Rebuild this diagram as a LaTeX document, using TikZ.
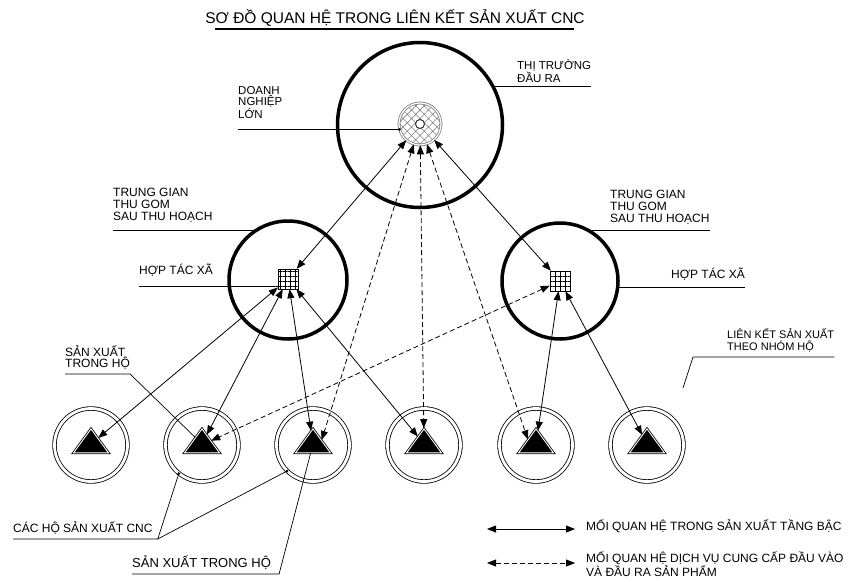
\documentclass[tikz,border=0pt]{standalone}
\usepackage{fontspec}
\setmainfont{Liberation Sans}
\usepackage{tikz}
\usetikzlibrary{arrows.meta}
\usetikzlibrary{patterns.meta}
\usetikzlibrary{shapes.geometric}
\tikzset{
  lbl/.style={inner sep=0pt, anchor=south west, align=left, font=\fontsize{12}{12}\selectfont},
  leader/.style={line width=.7pt},
  tier/.style={line width=.8pt, {Triangle[length=9pt,width=7pt]}-{Triangle[length=9pt,width=7pt]}},
  svc/.style={tier, dash pattern=on 5pt off 3pt},
  ring/.style={circle, draw, line width=3.5pt, inner sep=0pt},
  hh/.style={circle, draw, line width=.8pt, double, double distance=2.8pt, minimum size=73pt, inner sep=0pt},
  tri/.style={isosceles triangle, isosceles triangle stretches, shape border rotate=90, draw, line width=.8pt, double, double distance=.9pt, fill=black, minimum width=35pt, minimum height=24pt, inner sep=0pt},
  htx/.style={rectangle, draw, line width=.5pt, minimum size=20pt, inner sep=0pt, pattern={Hatch[angle=0,distance=5pt,line width=.4pt]}},
  dot/.style={circle, fill, inner sep=0pt, minimum size=3pt}
}

\begin{document}
\begin{tikzpicture}[x=1pt,y=-1pt]
\useasboundingbox (0,0) rectangle (851,581);
% title
\node [font=\fontsize{15.5}{16}\selectfont, inner sep=0pt, anchor=base] (title) at (395,23) {SƠ ĐỒ QUAN HỆ TRONG LIÊN KẾT SẢN XUẤT CNC};
\draw [line width=1.2pt] ([xshift=10pt,yshift=-6pt]title.base west) -- ([xshift=-11pt,yshift=-6pt]title.base east);
% output market and big firm
\node [ring, minimum size=165pt] (mkt) at (420,125) {};
\node [circle, draw=gray, line width=.8pt, double, double distance=1.2pt, minimum size=42pt, inner sep=0pt, pattern={Hatch[angle=45,distance=6pt,line width=.6pt]}, pattern color=gray] (dn) at (420,124) {};
\node [circle, draw=gray!40!black, line width=1pt, fill=white, minimum size=9pt, inner sep=0pt] (dncore) at (dn) {};
% collectors and cooperatives
\node [ring, minimum size=118pt] (hub1) at (288,280) {};
\node [ring, minimum size=116pt] (hub2) at (560,281) {};
\node [htx] (htx1) at (288,279) {};
\node [htx] (htx2) at (560,281) {};
% households
\node [hh] (hh1) at (91,445) {};
\node [hh] (hh2) at (202,445) {};
\node [hh] (hh3) at (313,445) {};
\node [hh] (hh4) at (424,445) {};
\node [hh] (hh5) at (536,445) {};
\node [hh] (hh6) at (647,445) {};
\node [tri] (tri1) at (91,444) {};
\node [tri] (tri2) at (202,444) {};
\node [tri] (tri3) at (313,444) {};
\node [tri] (tri4) at (424,444) {};
\node [tri] (tri5) at (536,444) {};
\node [tri] (tri6) at (647,444) {};
% relations
\draw [tier] (dn) -- (htx1);
\draw [tier] (dn) -- (htx2);
\draw [svc] (dn) -- (tri3.25);
\draw [svc] (dn) -- (tri4);
\draw [svc] (dn) -- (tri5.150);
\draw [svc] (htx2) -- (tri2.20);
\draw [tier] (htx1) -- (tri1);
\draw [tier] (htx1) -- (tri2);
\draw [tier] (htx1) -- (tri3);
\draw [tier] (htx1) -- (tri4);
\draw [tier] (htx2) -- (tri5);
\draw [tier] (htx2) -- (tri6);
% labels
\node [lbl, font=\fontsize{11.5}{9.5}\selectfont] (dnlbl) at (238,119) {DOANH\\NGHIỆP\\LỚN};
\draw [leader] (dnlbl.west |- dn.195) -- (dn.195);
\node [dot] (dndot) at (dn.195) {};
\node [lbl, font=\fontsize{11.5}{10}\selectfont] (ttlbl) at (517,83) {THỊ TRƯỜNG\\ĐẦU RA};
\draw [leader] (mkt.27) -- (ttlbl.east |- mkt.27);
\node [lbl] (tg1lbl) at (113,223) {TRUNG GIAN\\THU GOM\\SAU THU HOẠCH};
\draw [leader] (tg1lbl.west |- hub1.125) -- (hub1.125);
\node [lbl] (htx1lbl) at (139,277) {HỢP TÁC XÃ};
\draw [leader] (htx1lbl.west |- htx1.215) -- (htx1.215);
\node [lbl] (tg2lbl) at (610,225) {TRUNG GIAN\\THU GOM\\SAU THU HOẠCH};
\draw [leader] (hub2.58) -- (tg2lbl.east |- hub2.58);
\node [lbl] (htx2lbl) at (671,281) {HỢP TÁC XÃ};
\draw [leader] (hub2.354) -- (htx2lbl.east |- hub2.354);
\node [lbl, font=\fontsize{11}{12}\selectfont] (lklbl) at (727,352) {LIÊN KẾT SẢN XUẤT\\THEO NHÓM HỘ};
\coordinate (lkknee) at (693,357);
\coordinate (lkend) at (683,388);
\draw [leader] (lklbl.east |- lkknee) -- (lkknee) -- (lkend);
\node [lbl, font=\fontsize{12}{11.5}\selectfont] (sx1lbl) at (65,370) {SẢN XUẤT\\TRONG HỘ};
\draw [leader] ([yshift=-4pt]sx1lbl.south west) -- ([yshift=-4pt]sx1lbl.south east) -- (tri2);
\node [lbl] (cnclbl) at (13,535) {CÁC HỘ SẢN XUẤT CNC};
\coordinate (cncknee) at ([xshift=5pt,yshift=-4pt]cnclbl.south east);
\draw [leader] ([yshift=-4pt]cnclbl.south west) -- (cncknee) -- (hh2.231);
\draw [leader] (cncknee) -- (hh3.225);
\node [dot] (hh2dot) at (hh2.231) {};
\node [dot] (hh3dot) at (hh3.225) {};
\node [lbl, font=\fontsize{13}{13}\selectfont] (sx2lbl) at (132,570) {SẢN XUẤT TRONG HỘ};
\draw [leader] ([yshift=-4pt]sx2lbl.south west) -- ([xshift=8pt,yshift=-4pt]sx2lbl.south east) -- (tri3);
% legend
\coordinate (leg1a) at (487,529);
\coordinate (leg1b) at (575,529);
\draw [tier] (leg1a) -- (leg1b);
\node [lbl] (leg1) at (586,533) {MỐI QUAN HỆ TRONG SẢN XUẤT TẦNG BẬC};
\coordinate (leg2a) at (487,563);
\coordinate (leg2b) at (575,563);
\draw [svc] (leg2a) -- (leg2b);
\node [lbl, font=\fontsize{12}{8.5}\selectfont] (leg2) at (586,577) {MỐI QUAN HỆ DỊCH VỤ CUNG CẤP ĐẦU VÀO\\VÀ ĐẦU RA SẢN PHẨM};
\end{tikzpicture}
\end{document}
